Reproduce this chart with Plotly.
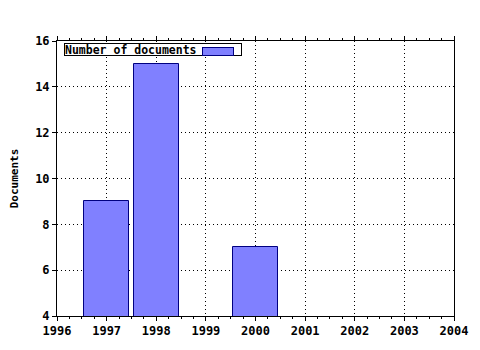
import plotly.graph_objects as go

years = [1997, 1998, 2000]
documents = [9, 15, 7]
series_name = "Number of documents"
x_ticks = [1996, 1997, 1998, 1999, 2000, 2001, 2002, 2003, 2004]
y_ticks = [4, 6, 8, 10, 12, 14, 16]

FONT = "DejaVu Sans Mono"

fig = go.Figure()
fig.add_trace(go.Bar(
    x=years, y=documents, width=0.9, base=0,
    marker=dict(color="#8080ff", line=dict(color="#000080", width=1)),
    name=series_name, showlegend=False,
))

axis_common = dict(
    showline=True, linecolor="black", linewidth=1,
    showgrid=True, gridcolor="black", griddash="1px,3px", gridwidth=1,
    zeroline=False,
    tickfont=dict(family=FONT, size=12, color="black", weight="bold"),
    ticks="outside", ticklen=4, tickcolor="black",
)

fig.update_xaxes(
    range=[1996, 2004], tickvals=x_ticks, ticktext=[str(v) for v in x_ticks],
    mirror="ticks",
    minor=dict(dtick=0.25, tick0=1996, ticks="outside", ticklen=2, tickcolor="black", showgrid=False),
    **axis_common,
)
fig.update_yaxes(
    range=[4, 16], tickvals=y_ticks, mirror=True,
    title=dict(text="Documents", font=dict(family=FONT, size=11, color="black", weight="bold"), standoff=14),
    **axis_common,
)

# legend box (text on left, swatch on right)
fig.add_annotation(
    xref="paper", yref="paper", x=0.017, y=0.991, xanchor="left", yanchor="top",
    text=series_name, showarrow=False, align="left", width=176, height=11,
    font=dict(family=FONT, size=11.5, color="black", weight="bold"),
    bordercolor="black", borderwidth=1, bgcolor="white", borderpad=0,
)
fig.add_annotation(
    xref="paper", yref="paper", x=0.365, y=0.98, xanchor="left", yanchor="top",
    text="", showarrow=False, width=30, height=7,
    bordercolor="#000080", borderwidth=1, bgcolor="#8080ff", borderpad=0,
)

fig.update_layout(
    width=480, height=350,
    margin=dict(l=57, r=21, t=41, b=30),
    paper_bgcolor="white", plot_bgcolor="white",
    bargap=0,
)

fig.write_html("out.html")
